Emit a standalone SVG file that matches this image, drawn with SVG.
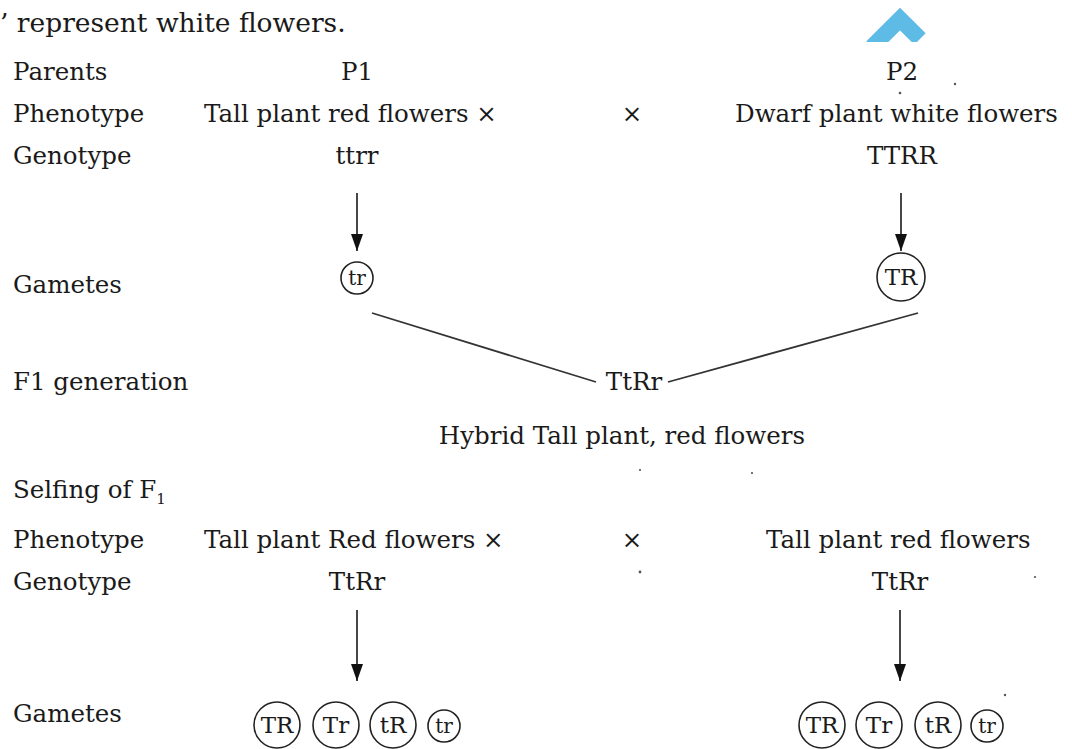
<svg xmlns="http://www.w3.org/2000/svg" width="1072" height="749" viewBox="0 0 1072 749">
<style>
  text { font-family: "DejaVu Serif", "Liberation Serif", serif; fill: #1a1a1a; }
  .t { font-size: 24.5px; }
  .m { text-anchor: middle; }
  .g { font-size: 23px; text-anchor: middle; }
  .gs { font-size: 20px; text-anchor: middle; }
  .c { fill: none; stroke: #222; stroke-width: 1.6; }
  .ln { stroke: #333; stroke-width: 1.8; fill: none; }
  .sp { fill: #555; }
</style>
<defs>
  <marker id="ah" markerWidth="17" markerHeight="12" refX="17" refY="6" orient="auto" markerUnits="userSpaceOnUse" viewBox="0 0 17 12">
    <path d="M0,0 L17,6 L0,12 Z" fill="#111"/>
  </marker>
  <clipPath id="clipTop"><rect x="0" y="0" width="1072" height="42"/></clipPath>
</defs>
<rect width="1072" height="749" fill="#fff"/>

<g id="header">
  <text x="0" y="32" style="font-size:26.5px">’ represent white flowers.</text>
  <path d="M872,47 L900,19 L920,39" clip-path="url(#clipTop)" stroke="#5dbbe6" stroke-width="16" fill="none" stroke-linejoin="miter"/>
</g>

<g id="labels">
  <text class="t" x="13" y="80">Parents</text>
  <text class="t" x="13" y="122">Phenotype</text>
  <text class="t" x="13" y="164">Genotype</text>
  <text class="t" x="13" y="293">Gametes</text>
  <text class="t" x="13" y="390">F1 generation</text>
  <text class="t" x="13" y="498">Selfing of F<tspan dy="6" style="font-size:15px">1</tspan></text>
  <text class="t" x="13" y="548">Phenotype</text>
  <text class="t" x="13" y="590">Genotype</text>
  <text class="t" x="13" y="722">Gametes</text>
</g>

<g id="p1">
  <text class="t m" x="357" y="80">P1</text>
  <text class="t" x="204" y="122">Tall plant red flowers ×</text>
  <text class="t m" x="357" y="164">ttrr</text>
</g>
<g id="cross1"><text class="t m" x="632" y="122">×</text></g>
<g id="p2">
  <text class="t m" x="902" y="80">P2</text>
  <text class="t" x="735" y="122">Dwarf plant white flowers</text>
  <text class="t m" x="902" y="164">TTRR</text>
</g>

<g id="gamete-p1">
  <circle class="c" cx="357" cy="278" r="16"/>
  <text class="gs" x="357" y="285">tr</text>
</g>
<g id="gamete-p2">
  <circle class="c" cx="901" cy="277" r="24"/>
  <text class="g" x="901" y="285">TR</text>
</g>

<g id="f1">
  <text class="t m" x="634" y="390">TtRr</text>
  <text class="t m" x="622" y="444">Hybrid Tall plant, red flowers</text>
</g>

<g id="self-p1">
  <text class="t" x="204" y="548">Tall plant Red flowers ×</text>
  <text class="t m" x="357" y="590">TtRr</text>
</g>
<g id="cross2"><text class="t m" x="632" y="548">×</text></g>
<g id="self-p2">
  <text class="t" x="766" y="548">Tall plant red flowers</text>
  <text class="t m" x="900" y="590">TtRr</text>
</g>

<g id="gametes-left">
  <circle class="c" cx="277" cy="725" r="23"/><text class="g" x="277" y="733">TR</text>
  <circle class="c" cx="336" cy="725" r="23"/><text class="g" x="336" y="733">Tr</text>
  <circle class="c" cx="393" cy="725" r="23"/><text class="g" x="393" y="733">tR</text>
  <circle class="c" cx="444" cy="726" r="16"/><text class="gs" x="444" y="733">tr</text>
</g>
<g id="gametes-right">
  <circle class="c" cx="822" cy="725" r="23"/><text class="g" x="822" y="733">TR</text>
  <circle class="c" cx="879" cy="725" r="23"/><text class="g" x="879" y="733">Tr</text>
  <circle class="c" cx="938" cy="725" r="23"/><text class="g" x="938" y="733">tR</text>
  <circle class="c" cx="987" cy="726" r="16"/><text class="gs" x="987" y="733">tr</text>
</g>

<g id="connectors">
  <line class="ln" x1="357" y1="193" x2="357" y2="251" marker-end="url(#ah)"/>
  <line class="ln" x1="901" y1="193" x2="901" y2="251" marker-end="url(#ah)"/>
  <line class="ln" x1="372" y1="313" x2="596" y2="382"/>
  <line class="ln" x1="918" y1="313" x2="668" y2="382"/>
  <line class="ln" x1="357" y1="610" x2="357" y2="681" marker-end="url(#ah)"/>
  <line class="ln" x1="900" y1="610" x2="900" y2="681" marker-end="url(#ah)"/>
</g>

<g id="specks">
  <circle class="sp" cx="900" cy="93" r="1.3"/>
  <circle class="sp" cx="955" cy="84" r="1.2"/>
  <circle class="sp" cx="640" cy="572" r="1.4"/>
  <circle class="sp" cx="640" cy="470" r="1.1"/>
  <circle class="sp" cx="752" cy="473" r="1.1"/>
  <circle class="sp" cx="1035" cy="577" r="1.1"/>
  <circle class="sp" cx="1005" cy="695" r="1.2"/>
</g>
</svg>
